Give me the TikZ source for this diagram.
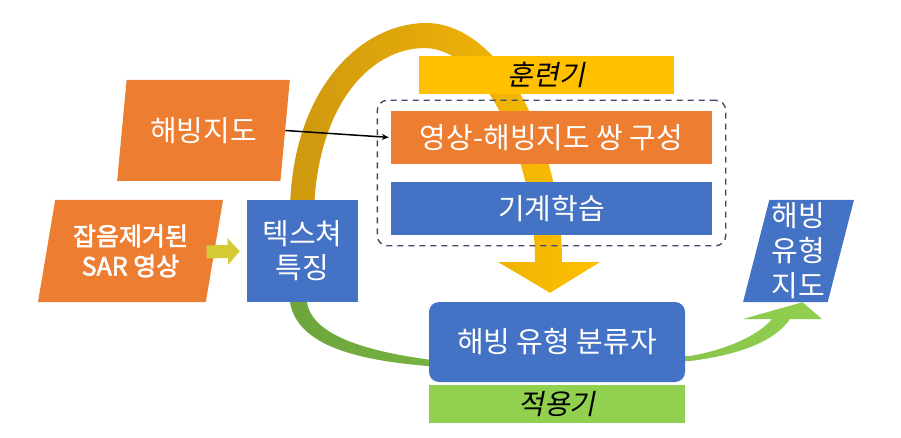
\documentclass[tikz,border=0pt]{standalone}
\usepackage{fontspec}
\setmainfont{Noto Sans CJK KR}
\newfontfamily\krslant{Noto Sans CJK KR}[FakeSlant=0.2]
\newfontfamily\krbold{Noto Sans CJK KR}[FakeBold=2.5]
\usepackage{tikz}
\usetikzlibrary{shapes.geometric,backgrounds,fit,calc,arrows.meta}

\definecolor{orangec}{RGB}{237,125,49}
\definecolor{bluec}{RGB}{68,114,196}
\definecolor{yellowc}{RGB}{255,192,0}
\definecolor{greenc}{RGB}{146,208,80}
\definecolor{goldc}{RGB}{206,152,16}
\definecolor{dgreenc}{RGB}{108,166,60}
\definecolor{dashc}{RGB}{60,74,104}
\definecolor{olivec}{RGB}{212,202,52}

\tikzset{
	blk/.style={fill=#1, text=white, inner sep=0pt, align=center, font=\fontsize{29}{34}\selectfont},
	slant/.style={trapezium, trapezium left angle=76, trapezium right angle=104, trapezium stretches=true, fill=#1, text=white, inner sep=0pt, align=center, font=\fontsize{29}{35}\selectfont},
	slab/.style={fill=#1, text=black, inner sep=0pt, font=\fontsize{28}{30}\krslant},
	group/.style={draw=dashc, dashed, dash pattern=on 6pt off 5pt, line width=1.4pt, rounded corners=10pt, inner xsep=13.5pt, inner ysep=10.5pt}
}

\begin{document}
\begin{tikzpicture}[x=1pt,y=-1pt]
	\useasboundingbox (0,0) rectangle (901,438);
	\node[slant=orangec, minimum width=173pt, minimum height=101pt] (map) at (203.5,130.5) {해빙지도};
	\node[slant=orangec, minimum width=185pt, minimum height=102pt, font=\fontsize{25}{30}\krbold] (sar) at (130.5,251) {잡음제거된\\SAR 영상};
	\node[blk=bluec, minimum width=111pt, minimum height=102pt] (tex) at (302.5,251) {텍스쳐\\특징};
	\node[blk=orangec, minimum width=321pt, minimum height=53pt] (pair) at (551.5,137.5) {영상-해빙지도 쌍 구성};
	\node[blk=bluec, minimum width=321pt, minimum height=53pt] (ml) at (551.5,208.5) {기계학습};
	\node[group, fit=(pair)(ml)] (trainset) {};
	\node[slab=yellowc, minimum width=255pt, minimum height=38pt] (train) at (546.5,75) {훈련기};
	\node[blk=bluec, rounded corners=10pt, minimum width=256pt, minimum height=80pt] (cls) at (557,342) {해빙 유형 분류자};
	\node[slab=greenc, minimum width=256pt, minimum height=38pt] (apply) at (557,404) {적용기};
	\node[slant=bluec, minimum width=111pt, minimum height=102pt] (out) at (798.5,251) {해빙\\유형\\지도};

	\draw[-{Stealth[length=7pt,width=6pt]}, line width=1.5pt, shorten >=2pt] (map.east) -- (pair.west);
	\draw[olivec, line width=13pt, -{Triangle[length=12pt,width=26pt]}, shorten >=7pt] ($(sar.east)+(-8,1)$) -- (tex.west |- sar.east);

	\begin{scope}[on background layer]
	\shade[left color=goldc, right color=yellowc] ($(tex.north)+(-12.5,10)$) .. controls (292,90) and (360,24) .. (425,23) .. controls (500,22) and (562,140) .. (562,262) -- (600,262) -- ($(cls.north)+(-7,-9)$) -- (498,262) -- (535,262) .. controls (535,160) and (485,49) .. (425,48) .. controls (370,48) and (318,105) .. ($(tex.north)+(11.5,10)$) -- cycle;
	\shade[left color=dgreenc, right color=greenc] ($(tex.south)+(-12.5,0)$) .. controls (298,350) and (370,362) .. (440,367) -- (690,361) .. controls (730,356) and (772,345) .. (790,319) -- (822,319) -- ($(out.south)+(4,0)$) -- (743,319) -- (772,319) .. controls (758,336) and (725,350) .. (690,356) -- (440,361) .. controls (365,352) and (312,335) .. ($(tex.south)+(4.5,0)$) -- cycle;
	\end{scope}
\end{tikzpicture}
\end{document}
